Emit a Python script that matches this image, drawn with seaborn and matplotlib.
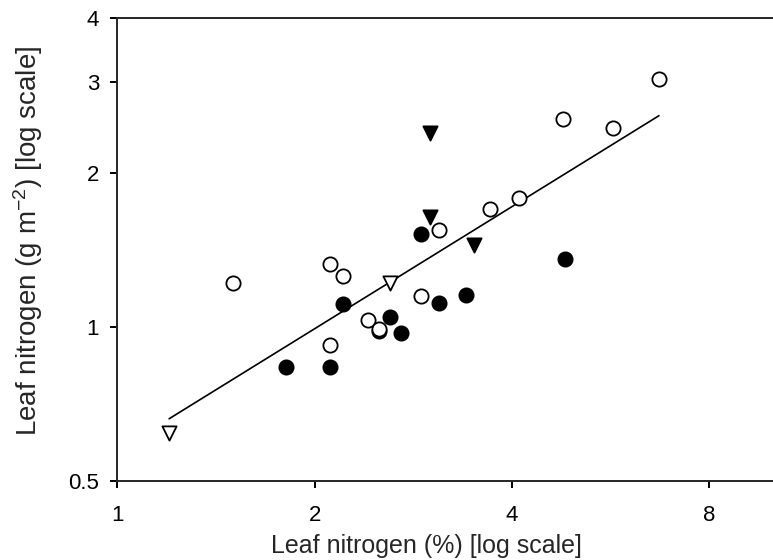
import numpy as np
import pandas as pd
import seaborn as sns
import matplotlib.pyplot as plt
from matplotlib.ticker import FixedLocator, FixedFormatter, NullLocator

# leaf nitrogen: % (x) vs g m-2 (y)
open_circle_x = [1.50, 2.11, 2.21, 2.11, 2.41, 2.51, 2.91, 3.10, 3.70, 4.10, 4.79, 5.70, 6.70]
open_circle_y = [1.215, 1.325, 1.254, 0.923, 1.033, 0.992, 1.147, 1.544, 1.694, 1.786, 2.544, 2.443, 3.05]

filled_circle_x = [1.81, 2.11, 2.21, 2.61, 2.51, 2.71, 2.91, 3.10, 3.40, 4.81]
filled_circle_y = [0.833, 0.833, 1.107, 1.043, 0.982, 0.974, 1.514, 1.114, 1.153, 1.353]

filled_tri_x = [3.00, 3.00, 3.50]
filled_tri_y = [2.385, 1.635, 1.443]

open_tri_x = [1.20, 2.61]
open_tri_y = [0.619, 1.218]

# log10(y) = fit_intercept + fit_slope * log10(x)
fit_slope = 0.792
fit_intercept = -0.2423

x_ticks = [1, 2, 4, 8]
y_ticks = [0.5, 1, 2, 3, 4]

sns.set_style("ticks")
plt.rcParams['font.family'] = ['Liberation Sans', 'DejaVu Sans']
plt.rcParams['mathtext.default'] = 'regular'

fig = plt.figure(figsize=(7.73, 5.6), dpi=100)
ax = fig.add_axes([0.1516, 0.1411, 0.8484, 0.8262])

# regression line across the range of the data
all_x = open_circle_x + filled_circle_x + filled_tri_x + open_tri_x
line_x = np.array([min(all_x), max(all_x)])
line_y = 10 ** (fit_intercept + fit_slope * np.log10(line_x))
fit = pd.DataFrame({'x': line_x, 'y': line_y})
sns.lineplot(data=fit, x='x', y='y', color='black', linewidth=1.2, ax=ax, zorder=1)

ms = 105
lw = 1.3
sns.scatterplot(x=filled_circle_x, y=filled_circle_y, marker='o', s=ms,
                color='black', edgecolor='black', linewidth=lw, ax=ax, zorder=3)
sns.scatterplot(x=open_circle_x, y=open_circle_y, marker='o', s=ms,
                color='white', edgecolor='black', linewidth=lw, ax=ax, zorder=4)
sns.scatterplot(x=filled_tri_x, y=filled_tri_y, marker='v', s=ms,
                color='black', edgecolor='black', linewidth=lw, ax=ax, zorder=3)
sns.scatterplot(x=open_tri_x, y=open_tri_y, marker='v', s=ms,
                color='white', edgecolor='black', linewidth=lw, ax=ax, zorder=4)

ax.set_xscale('log')
ax.set_yscale('log')
ax.set_xlim(1, 10)
ax.set_ylim(0.5, 4)

ax.xaxis.set_major_locator(FixedLocator(x_ticks))
ax.xaxis.set_major_formatter(FixedFormatter([str(v) for v in x_ticks]))
ax.yaxis.set_major_locator(FixedLocator(y_ticks))
ax.yaxis.set_major_formatter(FixedFormatter([str(v) for v in y_ticks]))
ax.xaxis.set_minor_locator(NullLocator())
ax.yaxis.set_minor_locator(NullLocator())

ax.spines['right'].set_visible(False)
for side in ['left', 'bottom', 'top']:
    ax.spines[side].set_linewidth(1.4)
ax.tick_params(axis='both', direction='out', length=5, width=1.4,
               labelsize=16, colors='black')
ax.tick_params(axis='x', pad=12)
ax.tick_params(axis='y', pad=8)

ax.set_xlabel('Leaf nitrogen (%) [log scale]', fontsize=18)
ax.set_ylabel('Leaf nitrogen (g m$^{-2}$) [log scale]', fontsize=20)
ax.xaxis.set_label_coords(0.471, -0.115)
ax.yaxis.set_label_coords(-0.11, 0.518)

fig.savefig('out.png', dpi=100)
